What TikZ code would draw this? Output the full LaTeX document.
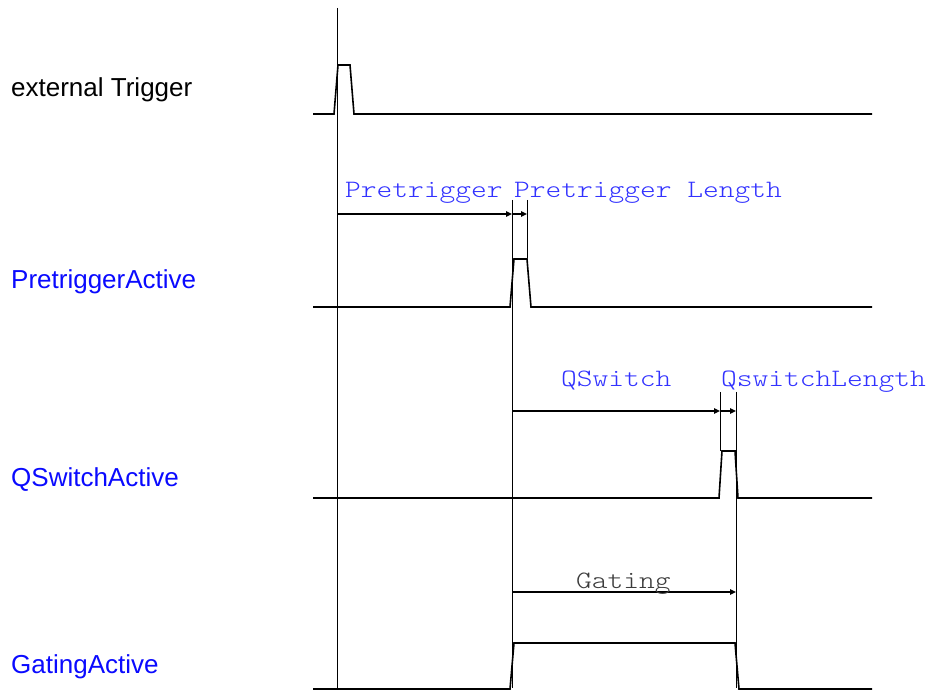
\documentclass[tikz,border=0pt]{standalone}
\usepackage{fontspec}
\setmainfont{Liberation Sans}
\usetikzlibrary{arrows.meta}
\definecolor{lblblue}{RGB}{10,10,255}
\definecolor{monoblue}{RGB}{50,50,255}
\definecolor{monogray}{RGB}{60,60,60}
\newcommand\monotxt[1]{\scalebox{1.2}[1]{#1}}
\tikzset{
  signal/.style={line width=1.6pt, black},
  marker/.style={line width=0.8pt, black},
  span/.style={line width=1.5pt, black, -{Triangle[length=6pt,width=5.5pt]}},
  siglabel/.style={anchor=base west, inner sep=0pt, font=\fontsize{26}{30}\selectfont},
  monolabel/.style={anchor=base west, inner sep=0pt, text=monoblue,
    font=\ttfamily\fontseries{l}\fontsize{25}{30}\selectfont},
}
\begin{document}
\begin{tikzpicture}[x=1pt,y=-1pt]
\useasboundingbox (0,0) rectangle (929,692);
% left labels
\node[siglabel] (lext) at (11,97) {external Trigger};
\node[siglabel, text=lblblue] (lpre) at (11,289) {PretriggerActive};
\node[siglabel, text=lblblue] (lqs) at (11,486) {QSwitchActive};
\node[siglabel, text=lblblue] (lgat) at (11,673) {GatingActive};
% marker coordinates
\coordinate (v0t) at (337,8);   \coordinate (v0b) at (337,688);
\coordinate (v1t) at (512,200); \coordinate (v1b) at (512,688);
\coordinate (v2t) at (527,200); \coordinate (v2b) at (527,258);
\coordinate (v3t) at (720,392); \coordinate (v3b) at (720,451);
\coordinate (v4t) at (736,392); \coordinate (v4b) at (736,688);
\draw[marker] (v0t) -- (v0b);
\draw[marker] (v1t) -- (v1b);
\draw[marker] (v2t) -- (v2b);
\draw[marker] (v3t) -- (v3b);
\draw[marker] (v4t) -- (v4b);
% signals
\draw[signal] (313,114) -- (334,114) -- (338,65) -- (350,65) -- (354,114) -- (872,114);
\draw[signal] (313,307) -- (510,307) -- (514,259) -- (527,259) -- (531,307) -- (872,307);
\draw[signal] (313,498) -- (719,498) -- (722,451) -- (735,451) -- (738,498) -- (872,498);
\draw[signal] (313,689) -- (510,689) -- (514,643) -- (735,643) -- (739,689) -- (872,689);
% span arrows
\coordinate (a0) at (337,214); \coordinate (a1) at (512,214); \coordinate (a2) at (527,214);
\coordinate (b0) at (512,411); \coordinate (b1) at (720,411); \coordinate (b2) at (736,411);
\coordinate (c0) at (512,592); \coordinate (c1) at (736,592);
\draw[span] (a0) -- (a1);
\draw[span] (a1) -- (a2);
\draw[span] (b0) -- (b1);
\draw[span] (b1) -- (b2);
\draw[span] (c0) -- (c1);
% span labels
\node[monolabel] (tpre) at (345,198) {\monotxt{Pretrigger}};
\node[monolabel] (tprel) at (514,198) {\monotxt{Pretrigger Length}};
\node[monolabel] (tqs) at (561,387) {\monotxt{QSwitch}};
\node[monolabel] (tqsl) at (721,387) {\monotxt{QswitchLength}};
\node[monolabel, text=monogray] (tgat) at (576,588) {\monotxt{Gating}};
\end{tikzpicture}
\end{document}
